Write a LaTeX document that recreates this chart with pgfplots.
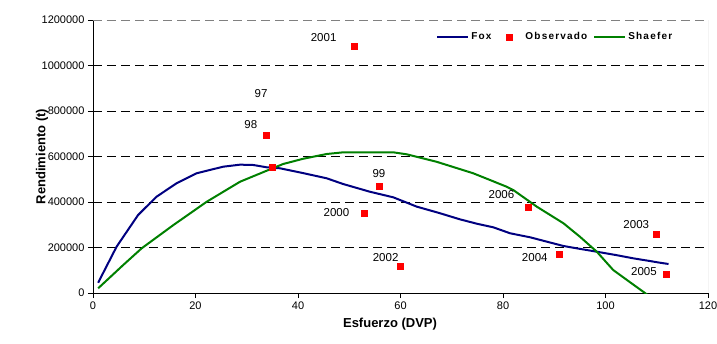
\documentclass[border=0pt]{standalone}
\usepackage{fontspec}
\setmainfont{Liberation Sans}
\usepackage{pgfplots}
\pgfplotsset{compat=1.18}
\definecolor{foxblue}{RGB}{0,0,128}
\definecolor{shgreen}{RGB}{0,128,0}
\definecolor{obsred}{RGB}{255,0,0}
\pgfplotsset{
  lineleg/.style={legend image code/.code={\draw[##1] (0pt,0pt) -- (31pt,0pt);}},
  markleg/.style={legend image code/.code={\path[draw=none,fill=none] (0pt,-2pt) rectangle (26pt,2pt); \draw[##1] plot coordinates {(12pt,0pt)};}},
}
\begin{document}
\begin{tikzpicture}
\useasboundingbox (-93pt,-50pt) rectangle (624pt,293pt);
\begin{axis}[
  scale only axis, width=615pt, height=273pt,
  xmin=0, xmax=120, ymin=0, ymax=1200000,
  xtick={0,20,...,120}, ytick={0,200000,...,1200000},
  scaled y ticks=false,
  /pgf/number format/.cd, fixed, 1000 sep={}, assume math mode=true,
  /pgfplots/.cd,
  tick label style={font=\fontsize{11}{13}\selectfont},
  tick align=outside, major tick length=5pt,
  tick style={black, line width=0.8pt},
  separate axis lines,
  axis x line*=bottom, axis y line*=left,
  axis line style={black, line width=0.8pt, -},
  ymajorgrids,
  major grid style={black, line width=0.8pt, dash pattern=on 9pt off 5pt},
  xlabel={Esfuerzo (DVP)}, ylabel={Rendimiento (t)},
  label style={font=\bfseries\fontsize{13}{15}\selectfont},
  xlabel style={at={(axis description cs:0.483,-0.114)}, anchor=center},
  ylabel style={at={(axis description cs:-0.083,0.5)}, anchor=center},
  legend style={at={(axis description cs:0.553,0.938)}, anchor=west, draw=none, fill=none,
    font=\bfseries\fontsize{10}{12}\selectfont\addfontfeature{LetterSpace=12},
    /tikz/every even column/.append style={column sep=4pt},
    /tikz/every odd column/.append style={column sep=0pt}},
  legend columns=3, legend cell align=left,
]
\draw[gray, line width=0.8pt, dash pattern=on 9pt off 5pt] (rel axis cs:0,1) -- (rel axis cs:1,1);
\draw[gray!70, line width=0.8pt] (rel axis cs:1,0) -- (rel axis cs:1,1);

\addlegendimage{foxblue, line width=2pt, lineleg}
\addlegendentry{Fox}
\addlegendimage{only marks, mark=square*, mark size=3pt, obsred, markleg}
\addlegendentry{Observado}
\addlegendimage{shgreen, line width=2pt, lineleg}
\addlegendentry{Shaefer}

\addplot[forget plot, foxblue, line width=2pt] coordinates {
(1,45000) (4.6,203500) (8.8,342900) (12.4,423300) (16.3,482200) (20.2,526200)
(25.4,555200) (28.7,564100) (31.3,562600) (33.9,552500) (36.5,548100)
(41,527000) (45.6,504200) (48.8,479100) (54,445300) (58.6,420500) (63.2,379400)
(67.5,352000) (71.6,323800) (75,304000) (78.1,288800) (81.4,262400) (85.3,244800)
(88.5,226000) (91.8,206600) (95,194000) (98.3,181500) (102,167000) (105.4,152500)
(108,143000) (110.6,133200) (112.3,127500)};

\addplot[forget plot, shgreen, line width=2pt] coordinates {
(1,20500) (5.9,123100) (9.5,196500) (15.7,298900) (22.2,401300) (28.7,489200)
(33.9,537600) (37.1,567000) (41,590000) (45.6,611000) (48.8,618300) (58.6,618300)
(61.2,609700) (67,577100) (74.2,526200) (80.7,467300) (82,452700) (86.6,379400)
(91.8,306400) (95,247500) (98.3,181500) (101.5,101100) (104.5,52000) (107.7,0)
(108.7,-18000)};

\addplot[forget plot, only marks, mark=square*, mark size=3pt, obsred] coordinates {
(51.0,1085700) (33.8,694500) (35.0,550800) (55.9,470300) (53.0,350300)
(59.9,118700) (84.9,375000) (90.9,170000) (109.9,259300) (111.8,83500)};

\begin{scope}[every node/.style={font=\fontsize{11.5}{13}\selectfont, anchor=center, inner sep=0pt}]
\node at (axis cs:45.0,1120900) {2001};
\node at (axis cs:32.8,874700) {97};
\node at (axis cs:30.8,738500) {98};
\node at (axis cs:55.8,524000) {99};
\node at (axis cs:47.5,355200) {2000};
\node at (axis cs:57.1,157400) {2002};
\node at (axis cs:79.7,432200) {2006};
\node at (axis cs:86.2,153800) {2004};
\node at (axis cs:106.0,300300) {2003};
\node at (axis cs:107.5,92300) {2005};
\end{scope}
\end{axis}
\end{tikzpicture}
\end{document}
